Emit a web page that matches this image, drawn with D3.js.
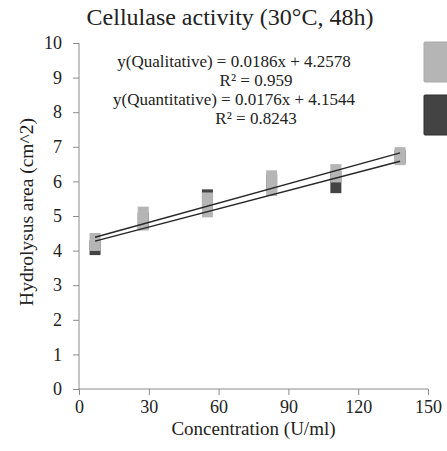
<!DOCTYPE html>
<html>
<head>
<meta charset="utf-8">
<script src="https://cdn.jsdelivr.net/npm/d3@7"></script>
<style>
  body { margin: 0; background: #fff; }
  svg { display: block; }
  svg text { font-family: "Liberation Serif", "Times New Roman", serif; }
</style>
</head>
<body>
<div id="chart"></div>
<script>
// concentrations (U/ml)
const concentrations = [6.9, 27.6, 55.2, 82.8, 110.4, 138];
// qualitative range (light boxes)
const qualLow  = [3.99, 4.58, 4.96, 5.58, 5.97, 6.47];
const qualHigh = [4.51, 5.27, 5.68, 6.32, 6.50, 6.99];
// quantitative range (dark boxes, drawn under the light ones)
const quantLow  = [3.87, 4.62, 5.20, 5.70, 5.66, 6.52];
const quantHigh = [4.30, 5.10, 5.77, 6.20, 6.30, 6.90];
// trend lines: slope, intercept
const trendNames = ["Qualitative", "Quantitative"];
const trendSlope = [0.0186, 0.0176];
const trendIntercept = [4.2578, 4.1544];
const trendR2 = ["0.959", "0.8243"];
const xTicks = [0, 30, 60, 90, 120, 150];
const yTicks = [0, 1, 2, 3, 4, 5, 6, 7, 8, 9, 10];

(function() {
    const width = 447, height = 451;
    const margin = {top: 43, right: 19, bottom: 62, left: 79};
    const innerWidth = width - margin.left - margin.right;
    const innerHeight = height - margin.top - margin.bottom;
    const textColor = "#222";
    const serif = "'Liberation Serif', 'Times New Roman', serif";

    const svg = d3.select("#chart").append("svg")
        .attr("width", width)
        .attr("height", height);

    const g = svg.append("g")
        .attr("transform", `translate(${margin.left},${margin.top})`);

    const x = d3.scaleLinear().domain([0, 150]).range([0, innerWidth]);
    const y = d3.scaleLinear().domain([0, 10]).range([innerHeight, 0]);

    const axisColor = "#8c8c8c";

    // Y axis
    const yAxis = g.append("g")
        .call(d3.axisLeft(y).tickValues(yTicks).tickSize(6).tickSizeOuter(0).tickPadding(11));
    // X axis
    const xAxis = g.append("g")
        .attr("transform", `translate(0,${innerHeight})`)
        .call(d3.axisBottom(x).tickValues(xTicks).tickSize(6).tickSizeOuter(0).tickPadding(5));

    [xAxis, yAxis].forEach(a => {
        a.attr("font-family", null).attr("font-size", null);
        a.selectAll("path, line").attr("stroke", axisColor);
        a.selectAll("text")
            .style("font-family", serif)
            .style("font-size", "18px")
            .attr("fill", textColor);
    });
    yAxis.select(".domain").attr("d", `M0,${innerHeight}V0`);
    xAxis.select(".domain").attr("d", `M0,0H${innerWidth}`);

    const boxW = 11;
    const rows = concentrations.map((c, i) => ({
        c, ql: qualLow[i], qh: qualHigh[i], nl: quantLow[i], nh: quantHigh[i]
    }));

    // dark boxes
    g.selectAll(".quant")
        .data(rows)
        .enter()
        .append("rect")
        .attr("class", "quant")
        .attr("x", d => x(d.c) - boxW / 2)
        .attr("width", boxW)
        .attr("y", d => y(d.nh))
        .attr("height", d => y(d.nl) - y(d.nh))
        .attr("fill", "#434343");

    // light boxes
    g.selectAll(".qual")
        .data(rows)
        .enter()
        .append("rect")
        .attr("class", "qual")
        .attr("x", d => x(d.c) - boxW / 2)
        .attr("width", boxW)
        .attr("y", d => y(d.qh))
        .attr("height", d => y(d.ql) - y(d.qh))
        .attr("fill", "#b5b5b5");

    // trend lines
    const xExt = d3.extent(concentrations);
    trendSlope.forEach((s, i) => {
        g.append("line")
            .attr("x1", x(xExt[0]))
            .attr("x2", x(xExt[1]))
            .attr("y1", y(s * xExt[0] + trendIntercept[i]))
            .attr("y2", y(s * xExt[1] + trendIntercept[i]))
            .attr("stroke", "#262626")
            .attr("stroke-width", 1.4);
    });

    // equation labels
    const eqLines = [];
    trendNames.forEach((n, i) => {
        eqLines.push({t: `y(${n}) = ${trendSlope[i]}x + ${trendIntercept[i]}`, cx: 234});
        eqLines.push({t: `R² = ${trendR2[i]}`, cx: 256});
    });
    svg.selectAll(".eq")
        .data(eqLines)
        .enter()
        .append("text")
        .attr("class", "eq")
        .attr("x", d => d.cx)
        .attr("y", (d, i) => 67 + i * 19)
        .attr("text-anchor", "middle")
        .style("font-family", serif)
        .style("font-size", "17px")
        .attr("fill", textColor)
        .text(d => d.t);

    // legend (cut by right edge)
    const legendFill = ["#b5b5b5", "#434343"];
    svg.selectAll(".legend")
        .data(trendNames)
        .enter()
        .append("rect")
        .attr("class", "legend")
        .attr("x", 424)
        .attr("y", (d, i) => 42 + i * 53)
        .attr("width", 40)
        .attr("height", 40)
        .attr("rx", 1)
        .attr("fill", (d, i) => legendFill[i])
        .attr("stroke", (d, i) => i ? "#2e2e2e" : "#aaaaaa");

    // title
    svg.append("text")
        .attr("x", 230)
        .attr("y", 25)
        .attr("text-anchor", "middle")
        .style("font-family", serif)
        .style("font-size", "24px")
        .attr("fill", textColor)
        .text("Cellulase activity (30°C, 48h)");

    // axis titles
    svg.append("text")
        .attr("x", margin.left + innerWidth / 2)
        .attr("y", 435)
        .attr("text-anchor", "middle")
        .style("font-family", serif)
        .style("font-size", "19px")
        .attr("fill", textColor)
        .text("Concentration (U/ml)");

    svg.append("text")
        .attr("transform", "translate(33,212) rotate(-90)")
        .attr("text-anchor", "middle")
        .style("font-family", serif)
        .style("font-size", "19.5px")
        .attr("fill", textColor)
        .text("Hydrolysus area (cm^2)");
})();
</script>
</body>
</html>
